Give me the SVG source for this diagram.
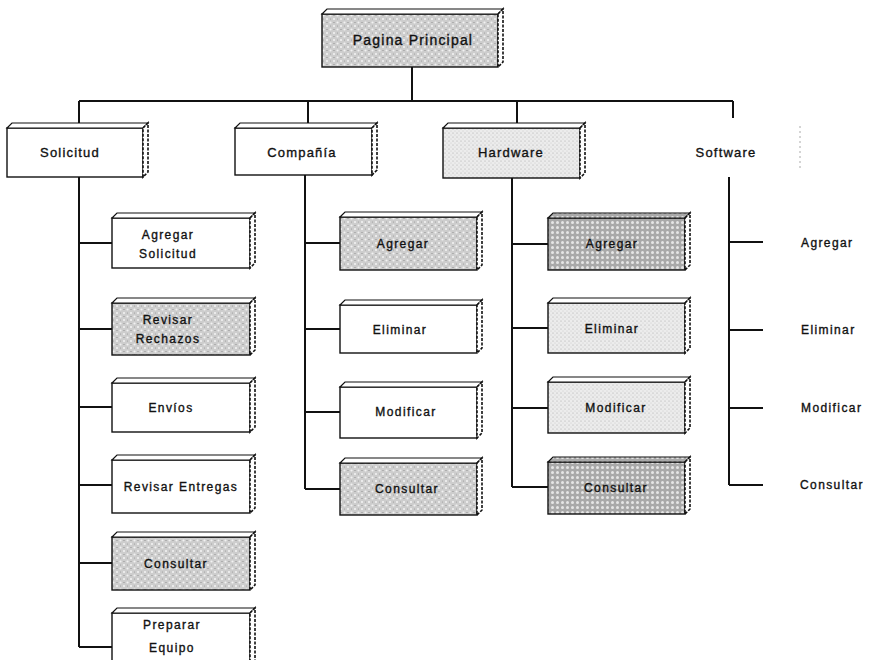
<svg xmlns="http://www.w3.org/2000/svg" width="870" height="660" viewBox="0 0 870 660">
<defs>
<pattern id="g1" width="7" height="7" patternUnits="userSpaceOnUse">
<rect width="7" height="7" fill="#cdcdcd"/>
<circle cx="1.5" cy="1.5" r="1.1" fill="#f2f2f2"/>
<circle cx="5" cy="5" r="1.1" fill="#f2f2f2"/>
<circle cx="5" cy="1.5" r="0.6" fill="#8a8a8a"/>
<circle cx="1.5" cy="5" r="0.6" fill="#9a9a9a"/>
</pattern>
<pattern id="g2" width="5" height="5" patternUnits="userSpaceOnUse">
<rect width="5" height="5" fill="#a9a9a9"/>
<circle cx="2.5" cy="2.5" r="1.5" fill="#e6e6e6"/>
</pattern>
<pattern id="g3" width="4" height="4" patternUnits="userSpaceOnUse">
<rect width="4" height="4" fill="#ececec"/>
<circle cx="1" cy="1" r="0.6" fill="#a8a8a8"/>
<circle cx="3" cy="3" r="0.5" fill="#c4c4c4"/>
</pattern>
</defs>
<style>
.f{stroke:#111;stroke-width:1.4}
.t,.s{fill:#fff;stroke:#111;stroke-width:1.2}
.s{stroke-dasharray:3 1.5;stroke-width:1.6}
.w{fill:#fff}
.p1{fill:url(#g1)}
.p2{fill:url(#g2)}
.p3{fill:url(#g3)}
text{font-family:"Liberation Sans",Arial,sans-serif;fill:#111;stroke:#111;stroke-width:0.35;text-anchor:middle}
.h{font-size:13px;letter-spacing:1.2px}
.c{font-size:12px;letter-spacing:1.4px}
.sw{text-anchor:start}
.ln{fill:none;stroke:#111;stroke-width:2}
</style>

<g id="connectors" class="ln">
<path d="M412 67V101M79 101H733M79 101V128M308 101V128M517 101V128M733 101V118"/>
<path d="M79 177V647M79 243H112M79 329H112M79 407H112M79 485H112M79 563H112M79 647H112"/>
<path d="M305 175V489M305 243H340M305 329H340M305 412H340M305 489H340"/>
<path d="M512 178V487M512 244H548M512 328H548M512 408H548M512 487H548"/>
<path d="M729 177V485M729 242H763M729 330H763M729 408H763M729 485H763"/>
</g>

<g id="root">
<rect class="f p1" x="322" y="14" width="176" height="53"/>
<path class="t" d="M322 14L327 9H503L498 14Z"/>
<path class="s" d="M498 14L503 9V62L498 67Z"/>
<text class="h" x="413" y="45" style="font-size:14px">Pagina Principal</text>
</g>

<g id="solicitud">
<rect class="f w" x="7" y="128" width="136" height="49"/>
<path class="t" d="M7 128L12 123H148L143 128Z"/>
<path class="s" d="M143 128L148 123V172L143 177Z"/>
<text class="h" x="70" y="157">Solicitud</text>
</g>
<g id="compania">
<rect class="f w" x="235" y="128" width="137" height="47"/>
<path class="t" d="M235 128L240 123H377L372 128Z"/>
<path class="s" d="M372 128L377 123V170L372 175Z"/>
<text class="h" x="302" y="157">Compañía</text>
</g>
<g id="hardware">
<rect class="f p3" x="443" y="128" width="137" height="50"/>
<path class="t" d="M443 128L448 123H585L580 128Z"/>
<path class="s" d="M580 128L585 123V173L580 178Z"/>
<text class="h" x="511" y="157">Hardware</text>
</g>
<g id="software">
<line x1="800" y1="126" x2="800" y2="170" stroke="#aaa" stroke-width="1" stroke-dasharray="2 3"/>
<text class="h" x="726" y="157">Software</text>
</g>

<g id="sol-agregar">
<rect class="f w" x="112" y="218" width="138" height="50"/>
<path class="t" d="M112 218L117 213H255L250 218Z"/>
<path class="s" d="M250 218L255 213V263L250 268Z"/>
<text class="c" x="168" y="239">Agregar</text>
<text class="c" x="168" y="258">Solicitud</text>
</g>
<g id="sol-rechazos">
<rect class="f p1" x="112" y="303" width="138" height="52"/>
<path class="t" d="M112 303L117 298H255L250 303Z"/>
<path class="s" d="M250 303L255 298V350L250 355Z"/>
<text class="c" x="168" y="324">Revisar</text>
<text class="c" x="168" y="343">Rechazos</text>
</g>
<g id="sol-envios">
<rect class="f w" x="112" y="383" width="138" height="49"/>
<path class="t" d="M112 383L117 378H255L250 383Z"/>
<path class="s" d="M250 383L255 378V427L250 432Z"/>
<text class="c" x="171" y="412">Envíos</text>
</g>
<g id="sol-entregas">
<rect class="f w" x="112" y="460" width="138" height="53"/>
<path class="t" d="M112 460L117 455H255L250 460Z"/>
<path class="s" d="M250 460L255 455V508L250 513Z"/>
<text class="c" x="181" y="491">Revisar Entregas</text>
</g>
<g id="sol-consultar">
<rect class="f p1" x="112" y="537" width="138" height="53"/>
<path class="t" d="M112 537L117 532H255L250 537Z"/>
<path class="s" d="M250 537L255 532V585L250 590Z"/>
<text class="c" x="176" y="568">Consultar</text>
</g>
<g id="sol-preparar">
<rect class="f w" x="112" y="613" width="138" height="60"/>
<path class="t" d="M112 613L117 608H255L250 613Z"/>
<path class="s" d="M250 613L255 608V668L250 673Z"/>
<text class="c" x="172" y="629">Preparar</text>
<text class="c" x="172" y="652">Equipo</text>
</g>

<g id="com-agregar">
<rect class="f p1" x="340" y="217" width="137" height="53"/>
<path class="t" d="M340 217L345 212H482L477 217Z"/>
<path class="s" d="M477 217L482 212V265L477 270Z"/>
<text class="c" x="403" y="248">Agregar</text>
</g>
<g id="com-eliminar">
<rect class="f w" x="340" y="305" width="137" height="48"/>
<path class="t" d="M340 305L345 300H482L477 305Z"/>
<path class="s" d="M477 305L482 300V348L477 353Z"/>
<text class="c" x="400" y="334">Eliminar</text>
</g>
<g id="com-modificar">
<rect class="f w" x="340" y="387" width="137" height="51"/>
<path class="t" d="M340 387L345 382H482L477 387Z"/>
<path class="s" d="M477 387L482 382V433L477 438Z"/>
<text class="c" x="406" y="416">Modificar</text>
</g>
<g id="com-consultar">
<rect class="f p1" x="340" y="463" width="137" height="52"/>
<path class="t" d="M340 463L345 458H482L477 463Z"/>
<path class="s" d="M477 463L482 458V510L477 515Z"/>
<text class="c" x="407" y="493">Consultar</text>
</g>

<g id="hw-agregar">
<rect class="f p2" x="548" y="218" width="137" height="52"/>
<path class="t p2" d="M548 218L553 213H690L685 218Z"/>
<path class="s" d="M685 218L690 213V265L685 270Z"/>
<text class="c" x="612" y="248">Agregar</text>
</g>
<g id="hw-eliminar">
<rect class="f p3" x="548" y="303" width="137" height="50"/>
<path class="t" d="M548 303L553 298H690L685 303Z"/>
<path class="s" d="M685 303L690 298V348L685 353Z"/>
<text class="c" x="612" y="333">Eliminar</text>
</g>
<g id="hw-modificar">
<rect class="f p3" x="548" y="382" width="137" height="51"/>
<path class="t" d="M548 382L553 377H690L685 382Z"/>
<path class="s" d="M685 382L690 377V428L685 433Z"/>
<text class="c" x="616" y="412">Modificar</text>
</g>
<g id="hw-consultar">
<rect class="f p2" x="548" y="462" width="137" height="52"/>
<path class="t p2" d="M548 462L553 457H690L685 462Z"/>
<path class="s" d="M685 462L690 457V509L685 514Z"/>
<text class="c" x="616" y="492">Consultar</text>
</g>

<g id="sw-agregar"><text class="c sw" x="801" y="247">Agregar</text></g>
<g id="sw-eliminar"><text class="c sw" x="801" y="334">Eliminar</text></g>
<g id="sw-modificar"><text class="c sw" x="801" y="412">Modificar</text></g>
<g id="sw-consultar"><text class="c sw" x="800" y="489">Consultar</text></g>
</svg>
